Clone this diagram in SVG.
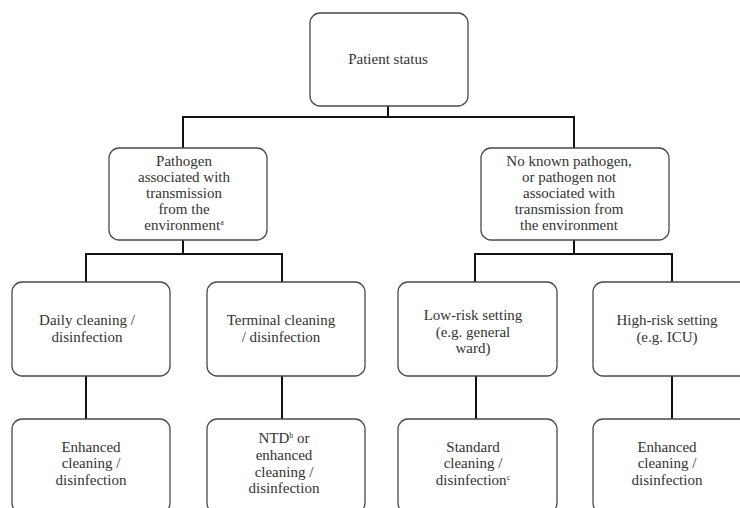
<svg xmlns="http://www.w3.org/2000/svg" width="740" height="508" viewBox="0 0 740 508">
<style>
.box{fill:#fff;stroke:#4a4a4a;stroke-width:1.3}
.t{font-family:"Liberation Serif","Times New Roman","DejaVu Serif",serif;font-size:15px;fill:#333;text-anchor:middle}
.sup{font-size:8px}
.c{fill:none;stroke:#111;stroke-width:2}
</style>
<rect width="740" height="508" fill="#fff"/>
<g id="connectors">
<path class="c" d="M388 106V117M183 117H574M183 116V148M574 116V148"/>
<path class="c" d="M183 240V254M86 254H282M86 253V282M282 253V282"/>
<path class="c" d="M574 240V254M475 254H672M475 253V282M672 253V282"/>
<path class="c" d="M86 376V419M282 376V419M476 376V419M672 376V419"/>
</g>
<g id="patient-status">
<rect class="box" x="310" y="13" width="158" height="93" rx="10"/>
<text class="t" x="388" y="64">Patient status</text>
</g>
<g id="pathogen-env">
<rect class="box" x="109" y="148" width="158" height="92" rx="10"/>
<text class="t"><tspan x="184" y="166">Pathogen</tspan><tspan x="184" y="182">associated with</tspan><tspan x="184" y="198">transmission</tspan><tspan x="184" y="214">from the</tspan><tspan x="184" y="230">environment<tspan class="sup" dy="-5">a</tspan></tspan></text>
</g>
<g id="no-pathogen">
<rect class="box" x="481" y="148" width="188" height="92" rx="10"/>
<text class="t"><tspan x="569" y="166">No known pathogen,</tspan><tspan x="569" y="182">or pathogen not</tspan><tspan x="569" y="198">associated with</tspan><tspan x="569" y="214">transmission from</tspan><tspan x="569" y="230">the environment</tspan></text>
</g>
<g id="daily">
<rect class="box" x="12" y="282" width="158" height="94" rx="10"/>
<text class="t"><tspan x="87" y="325">Daily cleaning /</tspan><tspan x="87" y="342">disinfection</tspan></text>
</g>
<g id="terminal">
<rect class="box" x="207" y="282" width="158" height="94" rx="10"/>
<text class="t"><tspan x="281" y="325">Terminal cleaning</tspan><tspan x="281" y="342">/ disinfection</tspan></text>
</g>
<g id="low-risk">
<rect class="box" x="398" y="282" width="159" height="94" rx="10"/>
<text class="t"><tspan x="473" y="320">Low-risk setting</tspan><tspan x="473" y="337">(e.g. general</tspan><tspan x="473" y="353">ward)</tspan></text>
</g>
<g id="high-risk">
<rect class="box" x="593" y="282" width="160" height="94" rx="10"/>
<text class="t"><tspan x="667" y="325">High-risk setting</tspan><tspan x="667" y="342">(e.g. ICU)</tspan></text>
</g>
<g id="enhanced-1">
<rect class="box" x="12" y="419" width="158" height="94" rx="10"/>
<text class="t"><tspan x="91" y="452">Enhanced</tspan><tspan x="91" y="468">cleaning /</tspan><tspan x="91" y="485">disinfection</tspan></text>
</g>
<g id="ntd">
<rect class="box" x="207" y="419" width="158" height="94" rx="10"/>
<text class="t"><tspan x="284" y="443">NTD<tspan class="sup" dy="-5">b</tspan><tspan dy="5"> or</tspan></tspan><tspan x="284" y="460">enhanced</tspan><tspan x="284" y="477">cleaning /</tspan><tspan x="284" y="493">disinfection</tspan></text>
</g>
<g id="standard">
<rect class="box" x="398" y="419" width="159" height="94" rx="10"/>
<text class="t"><tspan x="473" y="452">Standard</tspan><tspan x="473" y="468">cleaning /</tspan><tspan x="473" y="485">disinfection<tspan class="sup" dy="-5">c</tspan></tspan></text>
</g>
<g id="enhanced-2">
<rect class="box" x="593" y="419" width="160" height="94" rx="10"/>
<text class="t"><tspan x="667" y="452">Enhanced</tspan><tspan x="667" y="468">cleaning /</tspan><tspan x="667" y="485">disinfection</tspan></text>
</g>
</svg>
